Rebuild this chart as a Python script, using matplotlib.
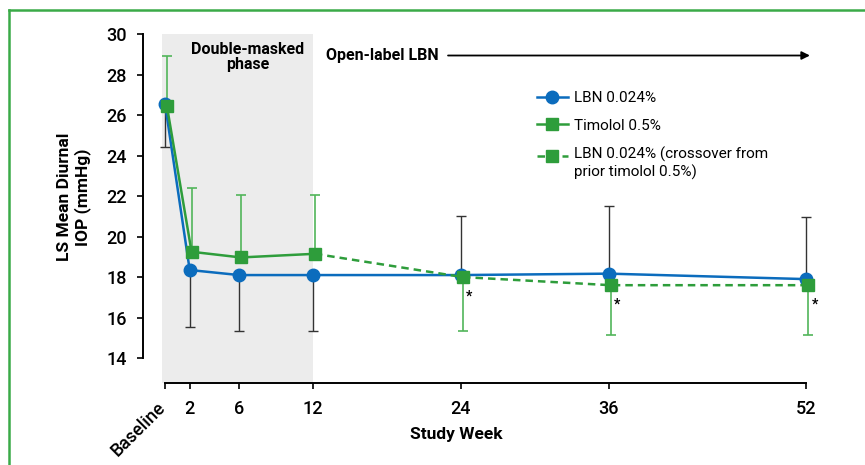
import numpy as np
import matplotlib
matplotlib.use("Agg")
import matplotlib.pyplot as plt
import matplotlib.transforms as mtransforms
from matplotlib.lines import Line2D
from matplotlib.legend_handler import HandlerLine2D

plt.rcParams['font.family'] = ['Roboto', 'DejaVu Sans']

# study weeks
weeks = np.array([0, 2, 6, 12, 24, 36, 52])
tick_labels = ["Baseline", "2", "6", "12", "24", "36", "52"]

# LBN 0.024% : means and end of the (one-sided) SD bar
lbn_mean = np.array([26.55, 18.35, 18.1, 18.1, 18.1, 18.17, 17.9])
lbn_bar_end = np.array([24.4, 15.55, 15.35, 15.35, 21.0, 21.5, 20.95])

# Timolol 0.5% (double-masked phase)
tim_weeks = np.array([0, 2, 6, 12])
tim_mean = np.array([26.45, 19.25, 18.97, 19.15])
tim_bar_end = np.array([28.9, 22.4, 22.05, 22.05])

# crossover from timolol to LBN (open-label)
cross_weeks = np.array([12, 24, 36, 52])
cross_mean = np.array([19.15, 18.0, 17.6, 17.6])
cross_bar_end = np.array([np.nan, 15.35, 15.15, 15.15])

BLUE = "#0b6cbd"
GREEN = "#2e9d3b"
GREEN_BAR = "#52b55a"
BORDER = "#3aaa48"


class ShiftedHandler(HandlerLine2D):
    # legend handle lined up with the first line of a two-line label
    def __init__(self, dy, **kw):
        super().__init__(**kw)
        self.dy = dy

    def create_artists(self, legend, orig_handle, xdescent, ydescent, width,
                       height, fontsize, trans):
        arts = super().create_artists(legend, orig_handle, xdescent, ydescent,
                                      width, height, fontsize, trans)
        for a in arts:
            a.set_ydata(np.asarray(a.get_ydata()) + self.dy)
        return arts


fig = plt.figure(figsize=(8.65, 4.65), dpi=100)
ax = fig.add_axes([0.165, 0.1763, 0.7813, 0.7505])

ax.axvspan(-0.25, 12, ymin=0, ymax=1, color="#ececec", zorder=0, lw=0)

# error bars (one sided)
def one_sided(mean, end):
    lo = np.where(end < mean, mean - end, 0)
    hi = np.where(end > mean, end - mean, 0)
    return np.vstack([lo, hi])

ax.errorbar(weeks, lbn_mean, yerr=one_sided(lbn_mean, lbn_bar_end), fmt="none",
            ecolor="#333333", elinewidth=1.0, capsize=3.5, capthick=1.0, zorder=2)
ax.errorbar(tim_weeks + 0.15, tim_mean, yerr=one_sided(tim_mean, tim_bar_end), fmt="none",
            ecolor=GREEN_BAR, elinewidth=1.2, capsize=3.5, capthick=1.2, zorder=2)
cw, cm, ce = cross_weeks[1:], cross_mean[1:], cross_bar_end[1:]
ax.errorbar(cw + 0.15, cm, yerr=one_sided(cm, ce), fmt="none",
            ecolor=GREEN_BAR, elinewidth=1.2, capsize=3.5, capthick=1.2, zorder=2)

l1, = ax.plot(weeks, lbn_mean, color=BLUE, lw=1.8, marker="o", ms=9, zorder=3,
              label="LBN 0.024%")
l2, = ax.plot(tim_weeks + 0.15, tim_mean, color=GREEN, lw=1.8, marker="s", ms=8.5,
              zorder=4, label="Timolol 0.5%")
l3, = ax.plot(cross_weeks + 0.15, cross_mean, color=GREEN, lw=1.8, ls=(0, (3, 2)),
              marker="s", ms=8.5, markevery=[1, 2, 3], zorder=4,
              label="LBN 0.024% (crossover from\nprior timolol 0.5%)")

for x, y in zip(cw, cm):
    ax.annotate("*", (x, y), xytext=(6, -14), textcoords="offset points",
                fontsize=10, fontweight="bold", ha="center", va="center")

# axes styling
ax.set_xlim(-1.81, 53)
ax.set_ylim(12.77, 30)
for s in ["top", "right"]:
    ax.spines[s].set_visible(False)
ax.spines["left"].set_bounds(14, 30)
ax.spines["bottom"].set_bounds(0, 52)
ax.spines["left"].set_linewidth(1.4)
ax.spines["bottom"].set_linewidth(1.4)
ax.set_yticks(np.arange(14, 31, 2))
ax.set_xticks(weeks)
ax.set_xticklabels(tick_labels)
ax.tick_params(axis="y", length=4.5, width=1.2, pad=7, labelsize=13)
ax.tick_params(axis="x", length=4, width=1.2, pad=8, labelsize=13)
for lab in ax.get_xticklabels() + ax.get_yticklabels():
    lab.set_fontweight("medium")
bl = ax.get_xticklabels()[0]
bl.set_rotation(45)
bl.set_rotation_mode("anchor")
bl.set_ha("right")
bl.set_va("top")
bl.set_transform(bl.get_transform() + mtransforms.ScaledTranslation(-9 / 100, 1 / 100,
                                                                     fig.dpi_scale_trans))

ax.set_xlabel("Study Week", fontsize=12.5, fontweight="bold")
ax.xaxis.set_label_coords(0.4636, -0.126)
ax.set_ylabel("LS Mean Diurnal\nIOP (mmHg)", fontsize=12.5, fontweight="bold",
              linespacing=1.15)
ax.yaxis.set_label_coords(-0.102, 0.533)
ax.yaxis.label.set_va("center")

ax.text(6.7, 29.62, "Double-masked\nphase", ha="center", va="top", fontsize=11.5,
        fontweight="bold", linespacing=1.05)
ax.text(13.06, 28.92, "Open-label LBN", ha="left", va="center", fontsize=11.5,
        fontweight="bold")
ax.annotate("", xy=(52.3, 28.94), xytext=(22.95, 28.94),
            arrowprops=dict(arrowstyle="-|>", color="black", lw=1.3,
                            mutation_scale=12, shrinkA=0, shrinkB=0))

leg = ax.legend(handles=[l1, l2, l3], loc="upper left",
                bbox_to_anchor=(537 / 865, 1 - 91 / 465),
                bbox_transform=fig.transFigure, frameon=False, fontsize=11,
                handlelength=2.0, handletextpad=0.4, labelspacing=0.9,
                borderpad=0, borderaxespad=0,
                handler_map={l3: ShiftedHandler(dy=5)})

# green frame
fig.add_artist(Line2D([9 / 865, 9 / 865], [0, 1 - 10.5 / 465], color=BORDER,
                      lw=1.8, transform=fig.transFigure))
fig.add_artist(Line2D([9 / 865, 1], [1 - 10.5 / 465, 1 - 10.5 / 465], color=BORDER,
                      lw=1.8, transform=fig.transFigure))

fig.savefig("out.png", dpi=100)
